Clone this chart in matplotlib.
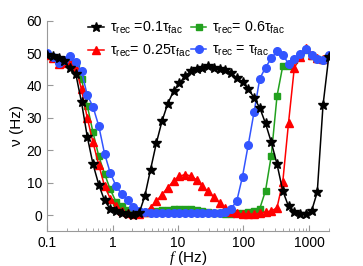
import matplotlib
matplotlib.use("Agg")
import matplotlib.pyplot as plt
from matplotlib.ticker import FixedLocator, FixedFormatter, LogLocator, NullFormatter

plt.rcParams['font.family'] = ['Liberation Sans', 'DejaVu Sans']
plt.rcParams['mathtext.fontset'] = 'custom'
plt.rcParams['mathtext.rm'] = 'Liberation Sans'
plt.rcParams['mathtext.it'] = 'Liberation Serif:italic'

freq = [0.1, 0.1224, 0.1498, 0.1834, 0.2245, 0.2748, 0.3363, 0.4117, 0.5039, 0.6168,
        0.755, 0.924, 1.131, 1.385, 1.695, 2.075, 2.54, 3.109, 3.805, 4.658,
        5.70, 6.98, 8.54, 10.46, 12.80, 15.67, 19.18, 23.47, 28.73, 35.17,
        43.05, 52.7, 64.5, 78.9, 96.6, 118.3, 144.8, 177.2, 216.9, 265.5,
        325.0, 397.8, 486.9, 596.0, 729.6, 893.0, 1093, 1338, 1638, 2000]

rate_01 = [49.5, 49.0, 48.6, 47.5, 45.3, 43.6, 34.8, 24.2, 15.7, 9.4,
           4.5, 1.9, 1.2, 0.5, 0.2, 0.1, 0.5, 5.8, 14.0, 22.1,
           29.0, 34.4, 38.2, 40.6, 42.9, 44.4, 45.0, 45.5, 45.9, 45.5,
           45.0, 44.7, 43.7, 42.4, 41.0, 39.0, 36.2, 33.1, 28.3, 22.5,
           15.7, 7.5, 2.7, 0.9, 0.4, 0.4, 1.2, 7.1, 33.9, 48.7]

rate_025 = [49.5, 48.5, 46.5, 47.0, 47.1, 45.5, 38.8, 30.0, 22.4, 15.5,
            9.0, 5.1, 2.7, 1.4, 0.7, 0.4, 0.3, 0.8, 2.3, 4.3,
            6.3, 8.5, 10.5, 12.0, 12.5, 12.1, 10.9, 8.9, 7.3, 5.5,
            3.8, 2.2, 1.0, 0.5, 0.3, 0.3, 0.3, 0.5, 1.0, 1.2,
            2.3, 10.2, 28.4, 45.3, 48.8, 51.6, 49.5, 48.5, 48.3, 49.5]

rate_06 = [49.5, 48.5, 47.5, 47.5, 47.5, 46.8, 42.0, 33.8, 25.5, 18.2,
           12.8, 7.9, 4.1, 2.8, 1.7, 0.8, 0.5, 0.6, 0.9, 1.2,
           1.5, 1.7, 1.9, 2.0, 2.0, 1.9, 1.6, 1.3, 1.0, 0.7,
           0.5, 0.4, 0.3, 0.5, 0.6, 1.0, 1.4, 2.0, 7.5, 18.3,
           36.7, 46.0, 46.0, 47.8, 49.4, 50.8, 49.1, 48.1, 47.8, 49.1]

rate_1 = [50.0, 48.7, 47.0, 48.0, 49.0, 47.2, 44.4, 37.0, 33.4, 27.5,
          19.0, 13.0, 9.0, 6.4, 4.5, 2.5, 1.3, 0.8, 0.5, 0.5,
          0.5, 0.5, 0.5, 0.5, 0.5, 0.5, 0.5, 0.5, 0.5, 0.5,
          0.6, 1.0, 2.0, 4.3, 11.9, 21.7, 31.7, 42.1, 45.5, 48.4,
          50.5, 49.5, 46.7, 48.2, 49.8, 51.1, 49.3, 48.3, 48.0, 49.3]

labels = [r'τ$_{\rm rec}$ =0.1τ$_{\rm fac}$',
          r'τ$_{\rm rec}$= 0.25τ$_{\rm fac}$',
          r'τ$_{\rm rec}$= 0.6τ$_{\rm fac}$',
          r'τ$_{\rm rec}$ = τ$_{\rm fac}$']

xticks = [0.1, 1, 10, 100, 1000]
xticklabels = ['0.1', '1', '10', '100', '1000']
yticks = [0, 10, 20, 30, 40, 50, 60]

fig = plt.figure(figsize=(3.63, 2.66), dpi=100)
ax = fig.add_axes([0.1295, 0.1305, 0.776, 0.792])

l_green, = ax.plot(freq, rate_06, '-s', color='#22a11e', ms=4.5, lw=1.1, zorder=2, label=labels[2])
l_red, = ax.plot(freq, rate_025, '-^', color='#ff0000', ms=5.5, lw=1.1, zorder=3, label=labels[1])
l_blue, = ax.plot(freq, rate_1, '-o', color='#3355ff', ms=5.5, lw=1.1, zorder=4, label=labels[3])
l_black, = ax.plot(freq, rate_01, '-*', color='black', ms=7, lw=1.1, zorder=5, label=labels[0])

ax.set_xscale('log')
ax.set_xlim(0.1, 2000)
ax.set_ylim(-5, 60)
ax.xaxis.set_major_locator(FixedLocator(xticks))
ax.xaxis.set_major_formatter(FixedFormatter(xticklabels))
ax.xaxis.set_minor_locator(LogLocator(base=10, subs=range(2, 10), numticks=20))
ax.xaxis.set_minor_formatter(NullFormatter())
ax.set_yticks(yticks)

for s in ['top', 'right']:
    ax.spines[s].set_visible(False)
for s in ['left', 'bottom']:
    ax.spines[s].set_color('#999999')
    ax.spines[s].set_linewidth(0.8)
ax.tick_params(which='both', direction='in', color='#999999', labelsize=10)
ax.tick_params(which='major', length=4)
ax.tick_params(which='minor', length=2)

ax.set_xlabel(r'$f$ (Hz)', fontsize=11, labelpad=-1)
ax.set_ylabel('ν (Hz)', fontsize=11, labelpad=2)

leg = ax.legend(handles=[l_black, l_red, l_green, l_blue], ncol=2, frameon=False,
                loc='upper left', bbox_to_anchor=(0.228, 0.947), bbox_transform=fig.transFigure,
                fontsize=10.3, handlelength=1.1, handletextpad=0.4, columnspacing=0.0,
                labelspacing=0.5, borderaxespad=0.0)

fig.savefig('out.png', dpi=100)
